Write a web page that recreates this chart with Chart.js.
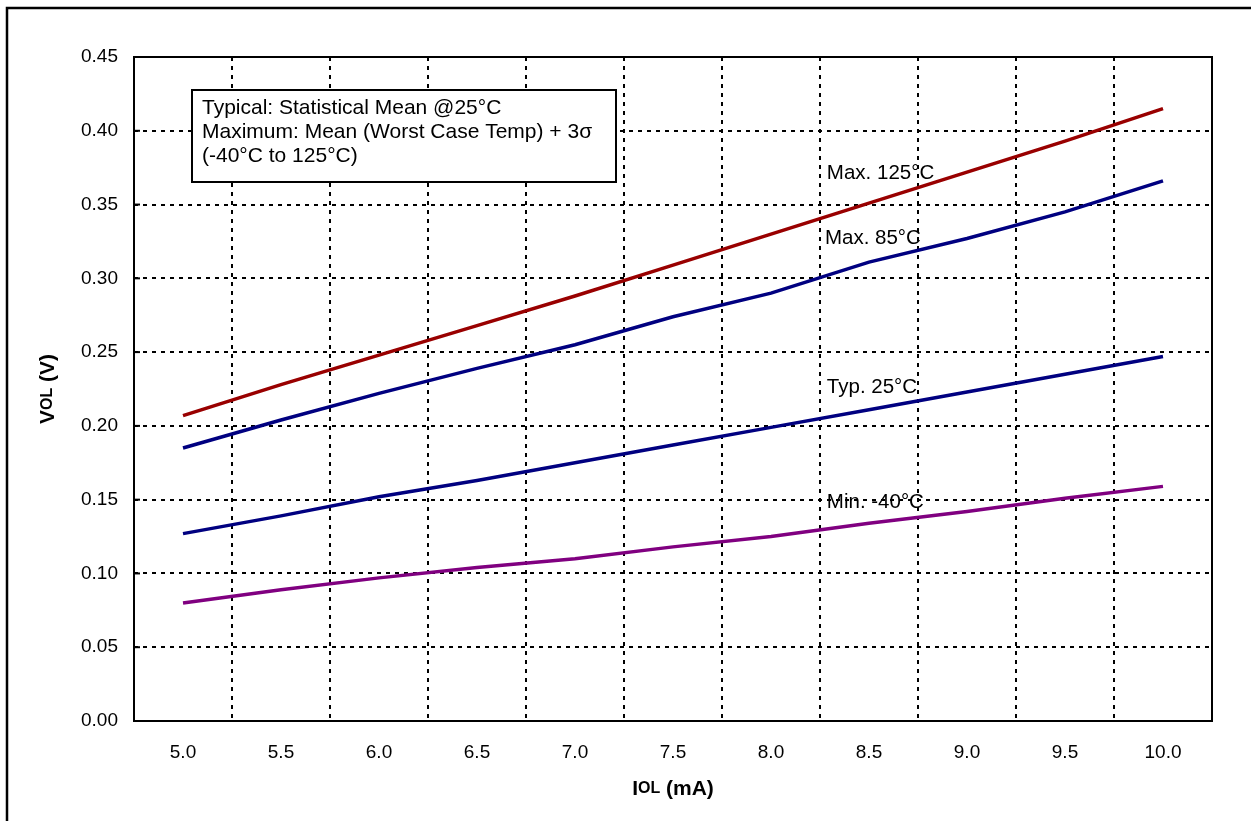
<!DOCTYPE html>
<html>
<head>
<meta charset="utf-8">
<script src="https://cdn.jsdelivr.net/npm/chart.js@4/dist/chart.umd.min.js"></script>
<style>
  html, body { margin: 0; padding: 0; background: #fff; overflow: hidden; }
  #wrap { width: 1251px; height: 821px; }
</style>
</head>
<body>
<div id="wrap"><canvas id="vol-chart" width="1251" height="821"></canvas></div>
<script>
const currents = ['5.0', '5.5', '6.0', '6.5', '7.0', '7.5', '8.0', '8.5', '9.0', '9.5', '10.0'];

const max125 = [0.207, 0.228, 0.248, 0.268, 0.288, 0.309, 0.330, 0.351, 0.372, 0.393, 0.415];
const max85  = [0.185, 0.204, 0.222, 0.239, 0.255, 0.274, 0.290, 0.311, 0.327, 0.345, 0.366];
const typ25  = [0.127, 0.139, 0.152, 0.163, 0.175, 0.187, 0.199, 0.211, 0.223, 0.235, 0.247];
const min40  = [0.080, 0.089, 0.097, 0.104, 0.110, 0.118, 0.125, 0.134, 0.142, 0.151, 0.159];

const yTicks = [0.00, 0.05, 0.10, 0.15, 0.20, 0.25, 0.30, 0.35, 0.40, 0.45];

const noteLines = [
    'Typical: Statistical Mean @25°C',
    'Maximum: Mean (Worst Case Temp) + 3σ',
    '(-40°C to 125°C)'
];

// curve labels: category index + value where the text sits
const curveLabels = [
    { text: 'Max. 125°C', at: 6.57, v: 0.371 },
    { text: 'Max. 85°C',  at: 6.55, v: 0.327 },
    { text: 'Typ. 25°C',  at: 6.57, v: 0.226 },
    { text: 'Min. -40°C', at: 6.57, v: 0.148 }
];

const FONT = '"Liberation Sans", Arial, sans-serif';

// draws bold text where some parts are smaller (subscript style), centred on x
function drawSubText(ctx, parts, x, y, size) {
    let total = 0;
    parts.forEach(p => {
        ctx.font = 'bold ' + Math.round(size * p[1]) + 'px ' + FONT;
        total += ctx.measureText(p[0]).width;
    });
    let cx = x - total / 2;
    parts.forEach(p => {
        ctx.font = 'bold ' + Math.round(size * p[1]) + 'px ' + FONT;
        ctx.fillText(p[0], cx, y);
        cx += ctx.measureText(p[0]).width;
    });
}

const decorPlugin = {
    id: 'decor',
    afterDraw(chart) {
        const ctx = chart.ctx;
        const a = chart.chartArea;
        const xs = chart.scales.x;
        const ys = chart.scales.y;
        ctx.save();

        // plot frame
        ctx.strokeStyle = '#000';
        ctx.lineWidth = 2;
        ctx.strokeRect(a.left, a.top, a.right - a.left, a.bottom - a.top);

        // small inward ticks on the value axis
        yTicks.forEach(t => {
            const py = ys.getPixelForValue(t);
            ctx.beginPath();
            ctx.moveTo(a.left, py);
            ctx.lineTo(a.left + 6, py);
            ctx.stroke();
        });

        // outer frame (runs off the page on right and bottom)
        ctx.lineWidth = 2.5;
        ctx.strokeRect(7, 8, 1400, 1000);

        // note box
        const bx = 192, by = 90, bw = 424, bh = 92;
        ctx.fillStyle = '#fff';
        ctx.fillRect(bx, by, bw, bh);
        ctx.lineWidth = 2;
        ctx.strokeRect(bx, by, bw, bh);
        ctx.fillStyle = '#000';
        ctx.font = '21px ' + FONT;
        ctx.textBaseline = 'middle';
        ctx.textAlign = 'left';
        noteLines.forEach((line, i) => {
            ctx.fillText(line, bx + 10, by + 18 + i * 24);
        });

        // curve labels
        ctx.font = '20.5px ' + FONT;
        curveLabels.forEach(l => {
            ctx.fillText(l.text, xs.getPixelForValue(l.at), ys.getPixelForValue(l.v));
        });

        // axis titles with subscripts
        drawSubText(ctx, [['I', 1], ['OL', 0.78], [' (mA)', 1]], (a.left + a.right) / 2, 789, 21);

        ctx.save();
        ctx.translate(48, (a.top + a.bottom) / 2);
        ctx.rotate(-Math.PI / 2);
        drawSubText(ctx, [['V', 1], ['OL', 0.78], [' (V)', 1]], 0, 0, 21);
        ctx.restore();

        ctx.restore();
    }
};

function makeLine(label, data, color) {
    return {
        label: label,
        data: data,
        borderColor: color,
        backgroundColor: color,
        borderWidth: 3.5,
        pointRadius: 0,
        tension: 0,
        fill: false
    };
}

const volChart = new Chart(document.getElementById('vol-chart').getContext('2d'), {
    type: 'line',
    data: {
        labels: currents,
        datasets: [
            makeLine('Max. 125°C', max125, '#990000'),
            makeLine('Max. 85°C', max85, '#000080'),
            makeLine('Typ. 25°C', typ25, '#000080'),
            makeLine('Min. -40°C', min40, '#800080')
        ]
    },
    options: {
        responsive: false,
        animation: false,
        devicePixelRatio: 1,
        layout: { padding: { top: 57, right: 39, left: 0, bottom: 0 } },
        plugins: {
            legend: { display: false },
            tooltip: { enabled: false },
            title: { display: false }
        },
        scales: {
            x: {
                type: 'category',
                offset: true,
                grid: {
                    offset: true,
                    color: '#000',
                    lineWidth: 2,
                    drawTicks: false
                },
                border: { display: false, dash: [4, 5] },
                ticks: {
                    color: '#000',
                    padding: 20,
                    font: { family: FONT, size: 19 },
                    maxRotation: 0
                },
                afterFit(scale) { scale.height = 100; }
            },
            y: {
                min: 0,
                max: 0.45,
                afterBuildTicks(scale) {
                    scale.ticks = yTicks.map(v => ({ value: v }));
                },
                grid: {
                    color: '#000',
                    lineWidth: 2,
                    drawTicks: false
                },
                border: { display: false, dash: [4, 5] },
                ticks: {
                    color: '#000',
                    padding: 16,
                    font: { family: FONT, size: 19 },
                    callback: v => v.toFixed(2)
                },
                afterFit(scale) { scale.width = 134; }
            }
        }
    },
    plugins: [decorPlugin]
});
</script>
</body>
</html>
